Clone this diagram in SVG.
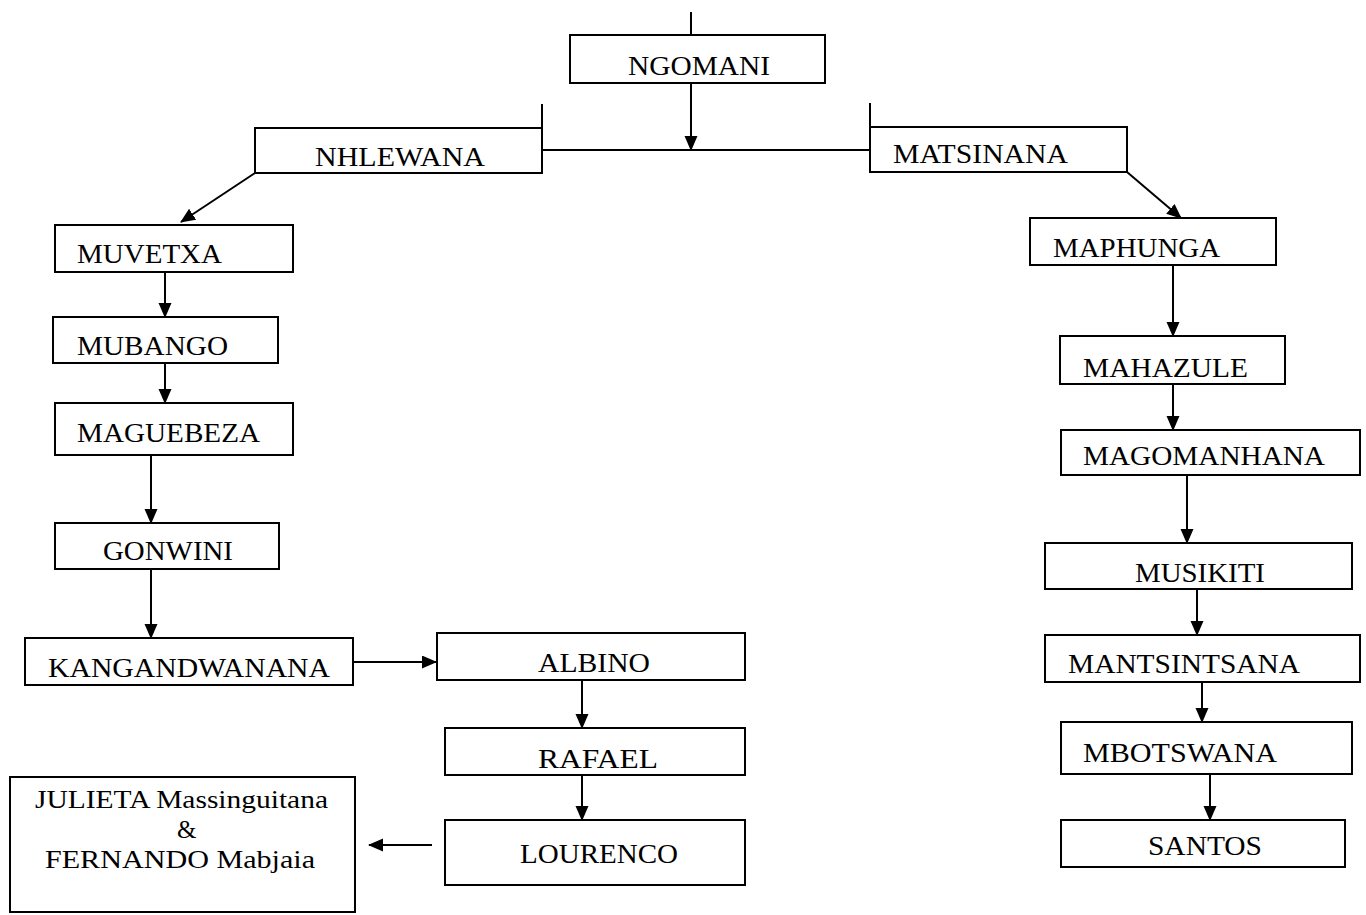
<svg xmlns="http://www.w3.org/2000/svg" width="1366" height="915" viewBox="0 0 1366 915">
<defs>
<marker id="ah" markerWidth="16" markerHeight="14" refX="14" refY="6.5" orient="auto" markerUnits="userSpaceOnUse">
<path d="M0,0 L15,6.5 L0,13 Z" fill="#000"/>
</marker>
<style>
.box{fill:#fff;stroke:#000;stroke-width:2}
.t{font-family:'Liberation Serif','Times New Roman',serif;font-size:27px;fill:#000}
.s{font-family:'Liberation Serif','Times New Roman',serif;font-size:25px;fill:#000}
.c{stroke:#000;stroke-width:2;fill:none}
.a{stroke:#000;stroke-width:2;fill:none;marker-end:url(#ah)}
</style>
</defs>
<rect width="1366" height="915" fill="#fff"/>
<g id="connectors">
<line class="c" x1="691" y1="12" x2="691" y2="35"/>
<line class="a" x1="691" y1="83" x2="691" y2="150"/>
<line class="c" x1="542" y1="150" x2="870" y2="150"/>
<line class="c" x1="542" y1="104" x2="542" y2="128"/>
<line class="c" x1="870" y1="103" x2="870" y2="127"/>
<line class="a" x1="255" y1="173" x2="181" y2="222"/>
<line class="a" x1="1127" y1="172" x2="1181" y2="218"/>
<line class="a" x1="165" y1="272" x2="165" y2="317"/>
<line class="a" x1="165" y1="363" x2="165" y2="403"/>
<line class="a" x1="151" y1="455" x2="151" y2="523"/>
<line class="a" x1="151" y1="569" x2="151" y2="638"/>
<line class="a" x1="353" y1="662" x2="436" y2="662"/>
<line class="a" x1="582" y1="680" x2="582" y2="728"/>
<line class="a" x1="582" y1="775" x2="582" y2="820"/>
<line class="a" x1="432" y1="845" x2="369" y2="845"/>
<line class="a" x1="1173" y1="265" x2="1173" y2="336"/>
<line class="a" x1="1173" y1="384" x2="1173" y2="430"/>
<line class="a" x1="1187" y1="475" x2="1187" y2="543"/>
<line class="a" x1="1197" y1="589" x2="1197" y2="635"/>
<line class="a" x1="1202" y1="682" x2="1202" y2="722"/>
<line class="a" x1="1210" y1="774" x2="1210" y2="820"/>
</g>
<g id="n-ngomani"><rect class="box" x="570" y="35" width="255" height="48"/><text class="t" x="628" y="75" textLength="142" lengthAdjust="spacingAndGlyphs">NGOMANI</text></g>
<g id="n-nhlewana"><rect class="box" x="255" y="128" width="287" height="45"/><text class="t" x="315" y="166" textLength="170" lengthAdjust="spacingAndGlyphs">NHLEWANA</text></g>
<g id="n-matsinana"><rect class="box" x="870" y="127" width="257" height="45"/><text class="t" x="893" y="163" textLength="175" lengthAdjust="spacingAndGlyphs">MATSINANA</text></g>
<g id="n-muvetxa"><rect class="box" x="55" y="225" width="238" height="47"/><text class="t" x="77" y="263" textLength="145" lengthAdjust="spacingAndGlyphs">MUVETXA</text></g>
<g id="n-mubango"><rect class="box" x="53" y="317" width="225" height="46"/><text class="t" x="77" y="355" textLength="151" lengthAdjust="spacingAndGlyphs">MUBANGO</text></g>
<g id="n-maguebeza"><rect class="box" x="55" y="403" width="238" height="52"/><text class="t" x="77" y="442" textLength="183" lengthAdjust="spacingAndGlyphs">MAGUEBEZA</text></g>
<g id="n-gonwini"><rect class="box" x="55" y="523" width="224" height="46"/><text class="t" x="103" y="560" textLength="130" lengthAdjust="spacingAndGlyphs">GONWINI</text></g>
<g id="n-kangandwanana"><rect class="box" x="25" y="638" width="328" height="47"/><text class="t" x="48" y="677" textLength="282" lengthAdjust="spacingAndGlyphs">KANGANDWANANA</text></g>
<g id="n-albino"><rect class="box" x="437" y="633" width="308" height="47"/><text class="t" x="538" y="672" textLength="112" lengthAdjust="spacingAndGlyphs">ALBINO</text></g>
<g id="n-rafael"><rect class="box" x="445" y="728" width="300" height="47"/><text class="t" x="538" y="768" textLength="120" lengthAdjust="spacingAndGlyphs">RAFAEL</text></g>
<g id="n-lourenco"><rect class="box" x="445" y="820" width="300" height="65"/><text class="t" x="520" y="863" textLength="158" lengthAdjust="spacingAndGlyphs">LOURENCO</text></g>
<g id="n-julieta"><rect class="box" x="10" y="777" width="345" height="135"/>
<text class="s" x="35" y="808" textLength="293" lengthAdjust="spacingAndGlyphs">JULIETA Massinguitana</text>
<text class="s" x="177" y="838">&amp;</text>
<text class="s" x="45" y="868" textLength="270" lengthAdjust="spacingAndGlyphs">FERNANDO Mabjaia</text></g>
<g id="n-maphunga"><rect class="box" x="1030" y="218" width="246" height="47"/><text class="t" x="1053" y="257" textLength="167" lengthAdjust="spacingAndGlyphs">MAPHUNGA</text></g>
<g id="n-mahazule"><rect class="box" x="1060" y="336" width="225" height="48"/><text class="t" x="1083" y="377" textLength="165" lengthAdjust="spacingAndGlyphs">MAHAZULE</text></g>
<g id="n-magomanhana"><rect class="box" x="1061" y="430" width="299" height="45"/><text class="t" x="1083" y="465" textLength="242" lengthAdjust="spacingAndGlyphs">MAGOMANHANA</text></g>
<g id="n-musikiti"><rect class="box" x="1045" y="543" width="307" height="46"/><text class="t" x="1135" y="582" textLength="130" lengthAdjust="spacingAndGlyphs">MUSIKITI</text></g>
<g id="n-mantsintsana"><rect class="box" x="1045" y="635" width="315" height="47"/><text class="t" x="1068" y="673" textLength="232" lengthAdjust="spacingAndGlyphs">MANTSINTSANA</text></g>
<g id="n-mbotswana"><rect class="box" x="1061" y="722" width="291" height="52"/><text class="t" x="1083" y="762" textLength="194" lengthAdjust="spacingAndGlyphs">MBOTSWANA</text></g>
<g id="n-santos"><rect class="box" x="1061" y="820" width="284" height="47"/><text class="t" x="1148" y="855" textLength="114" lengthAdjust="spacingAndGlyphs">SANTOS</text></g>
</svg>
